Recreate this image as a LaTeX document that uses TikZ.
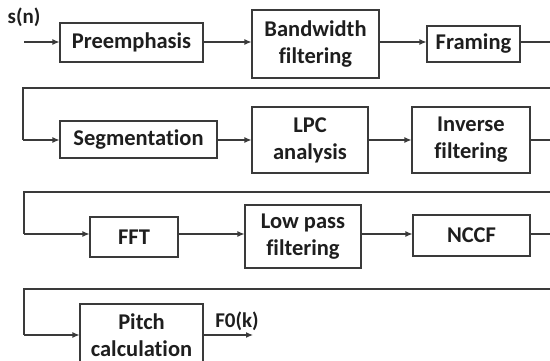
\documentclass[tikz,border=0pt]{standalone}
\usepackage{fontspec}
\setmainfont[Ligatures=NoCommon]{Carlito}
\usetikzlibrary{arrows.meta}
\definecolor{ink}{HTML}{1E1E1E}
\definecolor{edge}{HTML}{3A3A3A}
\begin{document}
\begin{tikzpicture}[x=1pt,y=-1pt,
  box/.style={draw=edge, line width=1.1pt, fill=white, rectangle, inner sep=0pt,
    align=center, text=ink, font=\fontsize{22.5}{27}\selectfont\bfseries},
  lbl/.style={text=ink, inner sep=0pt, font=\fontsize{21}{24}\selectfont\bfseries},
  flow/.style={draw=edge, line width=1.1pt, -{Latex[length=7pt,width=6pt]}},
  wire/.style={draw=edge, line width=1.1pt}]
\useasboundingbox (0,0) rectangle (550,361);
\clip (0,0) rectangle (550,361);
% row 1
\node[box, minimum width=143pt, minimum height=39pt] (pre) at (131.5,42.5) {Preemphasis};
\node[box, minimum width=127pt, minimum height=68pt] (bw) at (315.5,44) {Bandwidth\\filtering};
\node[box, minimum width=93pt, minimum height=36pt] (fr) at (473.5,44) {Framing};
% row 2
\node[box, minimum width=157pt, minimum height=37pt] (seg) at (138.5,139.5) {Segmentation};
\node[box, minimum width=116pt, minimum height=66pt] (lpc) at (310,140) {LPC\\analysis};
\node[box, minimum width=118pt, minimum height=66pt] (inv) at (471,140) {Inverse\\filtering};
% row 3
\node[box, minimum width=88pt, minimum height=40pt] (fft) at (134,237) {FFT};
\node[box, minimum width=116pt, minimum height=63pt] (lpf) at (303,236.5) {Low pass\\filtering};
\node[box, minimum width=117pt, minimum height=41pt] (nccf) at (471.5,235.5) {NCCF};
% row 4
\node[box, minimum width=123pt, minimum height=62pt] (pitch) at (141.5,335) {Pitch\\calculation};
% labels
\node[lbl] (sn) at (24,17) {s(n)};
\node[lbl] (f0) at (237,321) {F0(k)};
% coordinates
\coordinate (in) at (24,42);
\coordinate (r1) at (551,42);
\coordinate (t2r) at (551,88);
\coordinate (t2l) at (23,88);
\coordinate (r2) at (551,140);
\coordinate (t3r) at (551,192);
\coordinate (t3l) at (24,192);
\coordinate (r3) at (551,234);
\coordinate (t4r) at (551,289);
\coordinate (t4l) at (24,289);
\coordinate (out) at (253,335);
% row 1 connectors
\draw[flow] (in) -- (in -| pre.west);
\draw[flow] (pre.east |- in) -- (in -| bw.west);
\draw[flow] (bw.east |- in) -- (in -| fr.west);
\draw[wire] (fr.east |- in) -- (r1);
% row 2
\draw[wire] (t2r) -- (t2l) -- (t2l |- r2);
\draw[flow] (t2l |- r2) -- (r2 -| seg.west);
\draw[flow] (seg.east |- r2) -- (r2 -| lpc.west);
\draw[flow] (lpc.east |- r2) -- (r2 -| inv.west);
\draw[wire] (inv.east |- r2) -- (r2);
% row 3
\draw[wire] (t3r) -- (t3l) -- (t3l |- r3);
\draw[flow] (t3l |- r3) -- (r3 -| fft.west);
\draw[flow] (fft.east |- r3) -- (r3 -| lpf.west);
\draw[flow] (lpf.east |- r3) -- (r3 -| nccf.west);
\draw[wire] (nccf.east |- r3) -- (r3);
% row 4
\draw[wire] (t4r) -- (t4l) -- (t4l |- out);
\draw[flow] (t4l |- out) -- (out -| pitch.west);
\draw[flow] (pitch.east |- out) -- (out);
\end{tikzpicture}
\end{document}
